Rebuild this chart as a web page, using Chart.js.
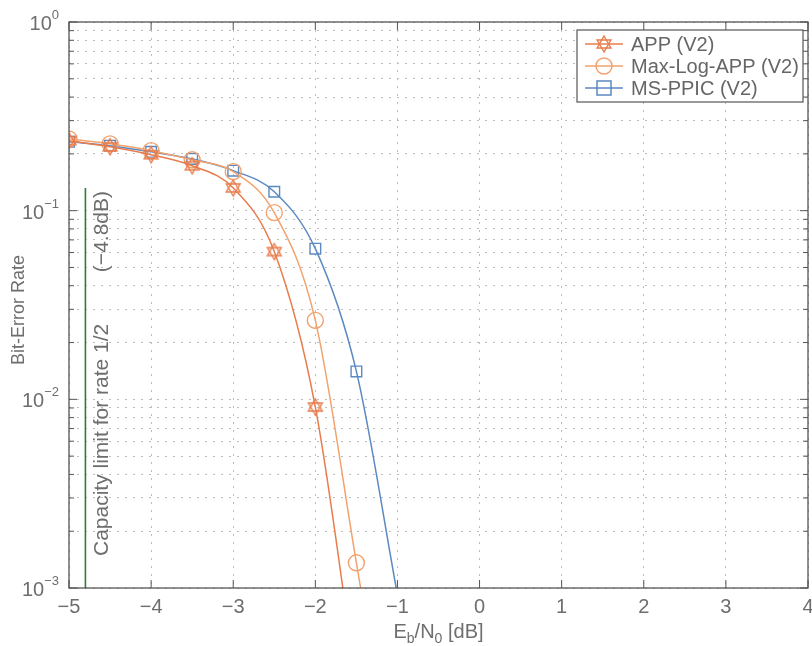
<!DOCTYPE html>
<html>
<head>
<meta charset="utf-8">
<script src="https://cdn.jsdelivr.net/npm/chart.js@4.4.1/dist/chart.umd.min.js"></script>
<style>
  html, body { margin: 0; padding: 0; background: #fff; overflow: hidden; }
  #wrap { width: 812px; height: 646px; position: relative; }
  canvas { display: block; }
</style>
</head>
<body>
<div id="wrap"><canvas id="c" width="812" height="646"></canvas></div>
<script>
// data
const ebn0 = [-5, -4.5, -4, -3.5, -3, -2.5, -2, -1.5, -1];
const berApp    = [0.235, 0.218, 0.198, 0.173, 0.132, 0.0607, 0.0091, 0.00031];
const berMaxLog = [0.240, 0.226, 0.208, 0.186, 0.161, 0.0976, 0.0262, 0.00136, 0.00007];
const berMsPpic = [0.232, 0.221, 0.205, 0.188, 0.163, 0.126, 0.0629, 0.01406, 0.00092];
const seriesNames = ['APP (V2)', 'Max-Log-APP (V2)', 'MS-PPIC (V2)'];
const xTicks = [-5, -4, -3, -2, -1, 0, 1, 2, 3, 4];
const yDecades = [1e-3, 1e-2, 1e-1, 1];
const yExponents = ['\u22123', '\u22122', '\u22121', '0'];
const capacityLimit = -4.8;
const capacityTop = 0.132;

const cApp = '#e87c4c', cMax = '#f2a26e', cMs = '#5b89c2', cGreen = '#2f7a3c';
const txt = '#6e6e6e';
const FONT = "'Liberation Sans Narrow', 'Liberation Sans', Arial, sans-serif";
const FONT2 = "'Liberation Sans', Arial, sans-serif";

// ---------- marker canvases ----------
function hexagram(color){
  const s = 20, cv = document.createElement('canvas');
  cv.width = s; cv.height = s;
  const g = cv.getContext('2d');
  g.strokeStyle = color; g.lineWidth = 1.4;
  const r = 8, cx = s/2, cy = s/2;
  [ -Math.PI/2, Math.PI/2 ].forEach(a0 => {
    g.beginPath();
    for(let i=0;i<3;i++){
      const a = a0 + i*2*Math.PI/3;
      const px = cx + r*Math.cos(a), py = cy + r*Math.sin(a);
      if(i===0) g.moveTo(px,py); else g.lineTo(px,py);
    }
    g.closePath(); g.stroke();
  });
  return cv;
}
const starImg = hexagram(cApp);

function pts(arr){ return arr.map((v,i) => ({x: ebn0[i], y: v})); }
// markers only for points inside the plotted range
function visibleRadius(arr, r){ return arr.map(v => v >= 0.001 ? r : 0); }

// ---------- plugin: frame, ticks, labels, legend ----------
const decor = {
  id: 'decor',
  afterDraw(chart){
    const {ctx, chartArea: a, scales: {x, y}} = chart;
    ctx.save();

    // capacity line
    const gx = x.getPixelForValue(capacityLimit);
    ctx.strokeStyle = cGreen; ctx.lineWidth = 1.6;
    ctx.beginPath(); ctx.moveTo(gx, y.getPixelForValue(capacityTop)); ctx.lineTo(gx, a.bottom); ctx.stroke();

    // frame
    ctx.strokeStyle = '#555'; ctx.lineWidth = 1.3;
    ctx.strokeRect(a.left, a.top, a.right - a.left, a.bottom - a.top);

    // inward tick marks
    ctx.lineWidth = 1;
    xTicks.forEach(v => {
      const px = x.getPixelForValue(v);
      ctx.beginPath();
      ctx.moveTo(px, a.bottom); ctx.lineTo(px, a.bottom - 8);
      ctx.moveTo(px, a.top); ctx.lineTo(px, a.top + 8);
      ctx.stroke();
    });
    y.ticks.forEach(t => {
      const py = y.getPixelForValue(t.value);
      const major = yDecades.some(d => Math.abs(d - t.value) < d*1e-6);
      const len = major ? 8 : 5;
      ctx.beginPath();
      ctx.moveTo(a.left, py); ctx.lineTo(a.left + len, py);
      ctx.moveTo(a.right, py); ctx.lineTo(a.right - len, py);
      ctx.stroke();
    });

    // y labels 10^n
    ctx.fillStyle = txt; ctx.textBaseline = 'alphabetic';
    yDecades.forEach((d, i) => {
      const py = y.getPixelForValue(d);
      ctx.font = '13px ' + FONT;
      const ew = ctx.measureText(yExponents[i]).width;
      ctx.font = '20px ' + FONT; ctx.textAlign = 'right';
      ctx.fillText('10', a.left - 10 - ew, py + 8);
      ctx.font = '13px ' + FONT; ctx.textAlign = 'left';
      ctx.fillText(yExponents[i], a.left - 10 - ew, py - 3);
    });

    // x labels
    ctx.font = '20px ' + FONT; ctx.textAlign = 'center';
    xTicks.forEach(v => {
      ctx.fillText(v < 0 ? '\u2212' + Math.abs(v) : String(v), x.getPixelForValue(v), a.bottom + 25);
    });

    // x title E_b/N_0 [dB]
    const parts = [['E',20,0],['b',14,5],['/N',20,0],['0',14,5],[' [dB]',20,0]];
    let tw = 0;
    parts.forEach(p => { ctx.font = p[1] + 'px ' + FONT; tw += ctx.measureText(p[0]).width; });
    let cx = (a.left + a.right)/2 - tw/2;
    ctx.textAlign = 'left';
    parts.forEach(p => {
      ctx.font = p[1] + 'px ' + FONT;
      ctx.fillText(p[0], cx, a.bottom + 50 + p[2]);
      cx += ctx.measureText(p[0]).width;
    });

    // y title
    ctx.save();
    ctx.translate(24, 310);
    ctx.rotate(-Math.PI/2);
    ctx.font = '18px ' + FONT2; ctx.textAlign = 'center';
    ctx.fillText('Bit-Error Rate', 0, 0);
    ctx.restore();

    // capacity text
    ctx.save();
    ctx.translate(gx + 23, 0);
    ctx.rotate(-Math.PI/2);
    ctx.font = '21px ' + FONT2;
    ctx.textAlign = 'left';
    ctx.fillText('Capacity limit for rate 1/2', -556, 0);
    ctx.textAlign = 'right';
    ctx.fillText('(\u22124.8dB)', -191, 0);
    ctx.restore();

    // legend
    const lx = 577, ly = 30, lw = 226, lh = 72;
    ctx.fillStyle = '#fff'; ctx.fillRect(lx, ly, lw, lh);
    ctx.strokeStyle = '#555'; ctx.lineWidth = 1.2; ctx.strokeRect(lx, ly, lw, lh);
    const cols = [cApp, cMax, cMs];
    seriesNames.forEach((name, i) => {
      const ry = ly + 14 + i*22;
      const mx = lx + 27;
      ctx.strokeStyle = cols[i]; ctx.lineWidth = 1.5;
      ctx.beginPath(); ctx.moveTo(lx + 8, ry); ctx.lineTo(lx + 46, ry); ctx.stroke();
      if(i === 0) ctx.drawImage(starImg, mx - 10, ry - 10);
      else if(i === 1){ ctx.beginPath(); ctx.arc(mx, ry, 8, 0, 2*Math.PI); ctx.stroke(); }
      else ctx.strokeRect(mx - 7, ry - 7, 14, 14);
      ctx.fillStyle = '#666'; ctx.font = '20px ' + FONT; ctx.textAlign = 'left';
      ctx.fillText(name, lx + 54, ry + 7);
    });

    ctx.restore();
  }
};

// ---------- chart ----------
const ctx = document.getElementById('c').getContext('2d');
new Chart(ctx, {
  type: 'line',
  data: {
    datasets: [
      { label: seriesNames[0], data: pts(berApp), borderColor: cApp, borderWidth: 1.5,
        pointStyle: starImg, pointRadius: visibleRadius(berApp, 10), cubicInterpolationMode: 'monotone' },
      { label: seriesNames[1], data: pts(berMaxLog), borderColor: cMax, borderWidth: 1.5,
        pointStyle: 'circle', pointRadius: visibleRadius(berMaxLog, 8), pointBorderWidth: 1.4,
        pointBackgroundColor: 'rgba(0,0,0,0)', cubicInterpolationMode: 'monotone' },
      { label: seriesNames[2], data: pts(berMsPpic), borderColor: cMs, borderWidth: 1.5,
        pointStyle: 'rect', pointRadius: visibleRadius(berMsPpic, 7.5), pointBorderWidth: 1.4,
        pointBackgroundColor: 'rgba(0,0,0,0)', cubicInterpolationMode: 'monotone' }
    ]
  },
  options: {
    responsive: false,
    animation: false,
    layout: { autoPadding: false, padding: { top: 22, right: 4, left: 0, bottom: 0 } },
    plugins: { legend: { display: false }, tooltip: { enabled: false } },
    scales: {
      x: {
        type: 'linear', min: -5, max: 4,
        afterFit(s){ s.height = 58; },
        afterBuildTicks(s){ s.ticks = xTicks.map(v => ({value: v})); },
        ticks: { display: false },
        grid: { color: '#bdbdbd', lineWidth: 1, drawTicks: false, tickLength: 0 },
        border: { display: false, dash: [2, 6] }
      },
      y: {
        type: 'logarithmic', min: 0.001, max: 1,
        afterFit(s){ s.width = 69; },
        afterBuildTicks(s){
          const t = [];
          [0.001, 0.01, 0.1].forEach(d => { for(let k=1;k<10;k++) t.push({value: d*k}); });
          t.push({value: 1});
          s.ticks = t;
        },
        ticks: { display: false },
        grid: { color: '#bdbdbd', lineWidth: 1, drawTicks: false, tickLength: 0 },
        border: { display: false, dash: [2, 6] }
      }
    }
  },
  plugins: [decor]
});
</script>
</body>
</html>
